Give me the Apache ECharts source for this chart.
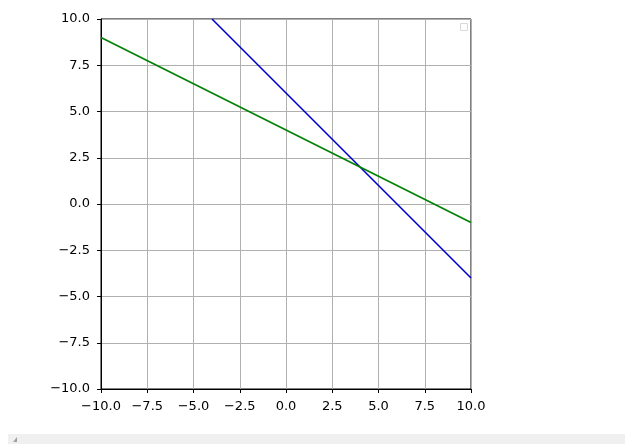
<!DOCTYPE html>
<html><head><meta charset="utf-8">
<script src="https://cdn.jsdelivr.net/npm/echarts@6/dist/echarts.min.js"></script>
<style>html,body{margin:0;padding:0;background:#fff}#c{width:625px;height:444px}</style>
</head><body><div id="c"></div>
<script>
const blueX = [-4, 10];
const blueY = [10, -4];
const greenX = [-10, 10];
const greenY = [9, -1];
const axisMin = -10, axisMax = 10, axisStep = 2.5;

function fmt(v){ const s = Math.abs(v).toFixed(1); return v < 0 ? '\u2212' + s : s; }
const chart = echarts.init(document.getElementById('c'), null, {renderer:'canvas'});
const font = {fontFamily:'DejaVu Sans', fontSize:13, color:'#000'};
function axis(pos, margin){
  return {
    type:'value', position:pos, min:axisMin, max:axisMax, interval:axisStep,
    axisLine:{show:true, onZero:false, lineStyle:{color:'#000', width:1}},
    axisTick:{show:true, inside:false, length:4, lineStyle:{color:'#000'}},
    axisLabel:Object.assign({formatter:fmt, margin:margin}, font),
    splitLine:{show:true, lineStyle:{color:'#b0b0b0', width:1}}
  };
}
chart.setOption({
  animation:false,
  grid:{left:101, top:19, width:370, height:370, show:true, borderColor:'#000', borderWidth:1, backgroundColor:'transparent'},
  xAxis:axis('bottom', 11),
  yAxis:axis('left', 11),
  series:[
    {type:'line', data:blueX.map((x,i)=>[x,blueY[i]]), showSymbol:false, lineStyle:{color:'#0000cd', width:1.6}},
    {type:'line', data:greenX.map((x,i)=>[x,greenY[i]]), showSymbol:false, lineStyle:{color:'#008000', width:1.6}}
  ],
  graphic:[
    {type:'rect', shape:{x:460.5, y:23.5, width:7, height:7}, style:{fill:'#fff', stroke:'#d8d8d8', lineWidth:1}},
    {type:'rect', shape:{x:8, y:434, width:617, height:10}, style:{fill:'#f0f0f0'}},
    {type:'polygon', shape:{points:[[13,442],[17,437],[17,442]]}, style:{fill:'#a0a0a0'}}
  ]
});
</script></body></html>
